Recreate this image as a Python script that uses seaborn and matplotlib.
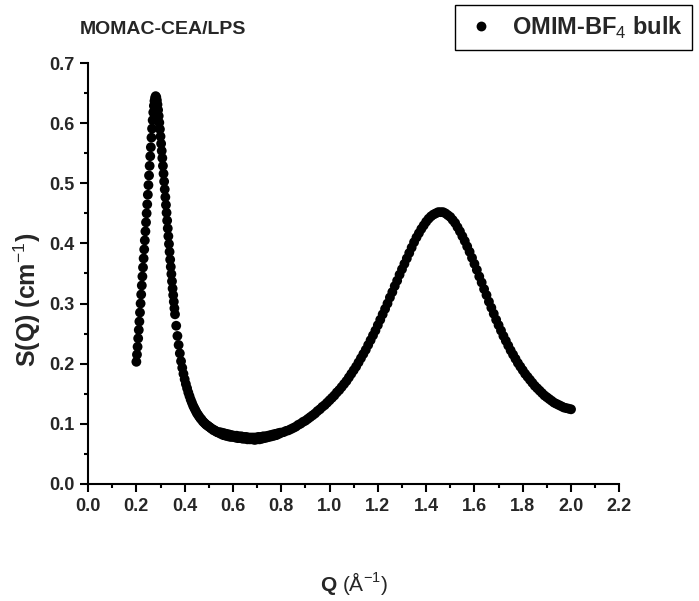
import numpy as np
import pandas as pd
import matplotlib
matplotlib.use("Agg")
import matplotlib.pyplot as plt
from matplotlib.ticker import MultipleLocator
import seaborn as sns

title = "MOMAC-CEA/LPS"
series_label = "OMIM-BF$_4$ bulk"

# first correlation peak (sparse, well separated points)
q_peak1 = [0.2000, 0.2025, 0.2050, 0.2075, 0.2100, 0.2125, 0.2150, 0.2175, 0.2200, 0.2225,
           0.2250, 0.2275, 0.2300, 0.2325, 0.2350, 0.2375, 0.2400, 0.2425, 0.2450, 0.2475,
           0.2500, 0.2525, 0.2550, 0.2575, 0.2600, 0.2625, 0.2650, 0.2675, 0.2700, 0.2725,
           0.2750, 0.2775, 0.2800,
           0.2825, 0.2850, 0.2875, 0.2900, 0.2925, 0.2950, 0.2975, 0.3000, 0.3025, 0.3050,
           0.3075, 0.3100, 0.3125, 0.3150, 0.3175, 0.3200, 0.3225, 0.3250, 0.3275, 0.3300,
           0.3325, 0.3350, 0.3375, 0.3400, 0.3425, 0.3450, 0.3475, 0.3500, 0.3525, 0.3550,
           0.3575, 0.3600]
s_peak1 = [0.203, 0.215, 0.228, 0.242, 0.256, 0.270, 0.285, 0.300, 0.315, 0.330,
           0.345, 0.360, 0.375, 0.390, 0.405, 0.420, 0.435, 0.450, 0.465, 0.481,
           0.497, 0.513, 0.529, 0.545, 0.560, 0.576, 0.591, 0.605, 0.618, 0.629,
           0.637, 0.642, 0.645,
           0.643, 0.638, 0.631, 0.622, 0.612, 0.601, 0.590, 0.578, 0.566, 0.554,
           0.542, 0.529, 0.516, 0.503, 0.490, 0.477, 0.464, 0.451, 0.438, 0.425,
           0.412, 0.399, 0.386, 0.373, 0.361, 0.349, 0.337, 0.325, 0.314, 0.303,
           0.292, 0.282]

# decay and noisy minimum
q_valley = [0.365, 0.370, 0.375, 0.380, 0.385, 0.390, 0.395, 0.400,
            0.405, 0.410, 0.415, 0.420, 0.425, 0.430, 0.435, 0.440, 0.445, 0.450,
            0.455, 0.460, 0.465, 0.470, 0.475, 0.480, 0.485, 0.490, 0.495, 0.500,
            0.505, 0.510, 0.515, 0.520, 0.525, 0.530, 0.535, 0.540, 0.545, 0.550,
            0.555, 0.560, 0.565, 0.570, 0.575, 0.580, 0.585, 0.590, 0.595, 0.600,
            0.605, 0.610, 0.615, 0.620, 0.625, 0.630, 0.635, 0.640, 0.645, 0.650,
            0.655, 0.660, 0.665, 0.670, 0.675, 0.680, 0.685, 0.690, 0.695, 0.700,
            0.705, 0.710, 0.715, 0.720, 0.725, 0.730, 0.735, 0.740, 0.745, 0.750,
            0.755, 0.760, 0.765, 0.770, 0.775, 0.780, 0.785, 0.790, 0.795]
s_valley = [0.263, 0.246, 0.231, 0.217, 0.204, 0.193, 0.183, 0.174,
            0.166, 0.159, 0.152, 0.146, 0.140, 0.135, 0.130, 0.126, 0.122, 0.118,
            0.115, 0.112, 0.109, 0.107, 0.104, 0.102, 0.100, 0.098, 0.097, 0.095,
            0.094, 0.092, 0.091, 0.089, 0.089, 0.087, 0.086, 0.085, 0.086, 0.083,
            0.085, 0.081, 0.084, 0.080, 0.083, 0.079, 0.082, 0.078, 0.081, 0.078,
            0.080, 0.077, 0.080, 0.076, 0.079, 0.076, 0.079, 0.075, 0.078, 0.075,
            0.078, 0.074, 0.077, 0.074, 0.077, 0.074, 0.077, 0.073, 0.077, 0.074,
            0.078, 0.074, 0.078, 0.075, 0.079, 0.076, 0.079, 0.077, 0.080, 0.078,
            0.081, 0.079, 0.082, 0.080, 0.083, 0.081, 0.084, 0.083, 0.085]

# rise to the second peak and high-Q tail
q_peak2 = [0.80, 0.81, 0.82, 0.83, 0.84, 0.85, 0.86, 0.87, 0.88, 0.89,
           0.90, 0.91, 0.92, 0.93, 0.94, 0.95, 0.96, 0.97, 0.98, 0.99,
           1.00, 1.01, 1.02, 1.03, 1.04, 1.05, 1.06, 1.07, 1.08, 1.09,
           1.10, 1.11, 1.12, 1.13, 1.14, 1.15, 1.16, 1.17, 1.18, 1.19,
           1.20, 1.21, 1.22, 1.23, 1.24, 1.25, 1.26, 1.27, 1.28, 1.29,
           1.30, 1.31, 1.32, 1.33, 1.34, 1.35, 1.36, 1.37, 1.38, 1.39,
           1.40, 1.41, 1.42, 1.43, 1.44, 1.45, 1.46, 1.47, 1.48, 1.49,
           1.50, 1.51, 1.52, 1.53, 1.54, 1.55, 1.56, 1.57, 1.58, 1.59,
           1.60, 1.61, 1.62, 1.63, 1.64, 1.65, 1.66, 1.67, 1.68, 1.69,
           1.70, 1.71, 1.72, 1.73, 1.74, 1.75, 1.76, 1.77, 1.78, 1.79,
           1.80, 1.81, 1.82, 1.83, 1.84, 1.85, 1.86, 1.87, 1.88, 1.89,
           1.90, 1.91, 1.92, 1.93, 1.94, 1.95, 1.96, 1.97, 1.98, 1.99, 2.00]
s_peak2 = [0.085, 0.086, 0.088, 0.089, 0.091, 0.093, 0.095, 0.098, 0.100, 0.103,
           0.105, 0.108, 0.111, 0.114, 0.117, 0.121, 0.124, 0.128, 0.131, 0.135,
           0.139, 0.143, 0.147, 0.152, 0.156, 0.161, 0.166, 0.171, 0.177, 0.183,
           0.189, 0.195, 0.202, 0.209, 0.216, 0.223, 0.231, 0.239, 0.247, 0.255,
           0.264, 0.273, 0.282, 0.291, 0.300, 0.310, 0.319, 0.329, 0.338, 0.348,
           0.357, 0.366, 0.375, 0.384, 0.393, 0.402, 0.410, 0.417, 0.424, 0.430,
           0.436, 0.441, 0.445, 0.448, 0.450, 0.452, 0.452, 0.452, 0.450, 0.447,
           0.444, 0.439, 0.434, 0.427, 0.420, 0.412, 0.404, 0.395, 0.386, 0.376,
           0.366, 0.356, 0.345, 0.335, 0.324, 0.314, 0.303, 0.293, 0.283, 0.273,
           0.264, 0.255, 0.246, 0.238, 0.230, 0.222, 0.215, 0.208, 0.201, 0.195,
           0.189, 0.183, 0.178, 0.173, 0.168, 0.163, 0.159, 0.155, 0.151, 0.147,
           0.144, 0.141, 0.138, 0.135, 0.133, 0.131, 0.129, 0.127, 0.126, 0.125, 0.124]

x_ticks = [0.0, 0.2, 0.4, 0.6, 0.8, 1.0, 1.2, 1.4, 1.6, 1.8, 2.0, 2.2]
y_ticks = [0.0, 0.1, 0.2, 0.3, 0.4, 0.5, 0.6, 0.7]

df = pd.DataFrame({"Q": q_peak1 + q_valley + q_peak2,
                   "S": s_peak1 + s_valley + s_peak2,
                   "series": series_label})

sns.set_style("ticks")
plt.rcParams["font.family"] = ["Liberation Sans", "DejaVu Sans"]
plt.rcParams["mathtext.fontset"] = "custom"
plt.rcParams["mathtext.rm"] = "Liberation Sans"
plt.rcParams["mathtext.bf"] = "Liberation Sans:bold"

fig = plt.figure(figsize=(6.99, 6.01), dpi=100)
ax = fig.add_axes([0.126, 0.195, 0.760, 0.700])

sns.scatterplot(data=df, x="Q", y="S", hue="series", palette=["black"],
                s=50, linewidth=0, ax=ax, legend=True)

ax.set_xlim(0.0, 2.2)
ax.set_ylim(0.0, 0.7)
ax.set_xticks(x_ticks)
ax.set_yticks(y_ticks)
ax.xaxis.set_minor_locator(MultipleLocator(0.1))
ax.yaxis.set_minor_locator(MultipleLocator(0.05))
ax.set_xticklabels([f"{v:.1f}" for v in x_ticks], fontsize=13, fontweight="bold")
ax.set_yticklabels([f"{v:.1f}" for v in y_ticks], fontsize=13, fontweight="bold")
ax.tick_params(axis="both", which="major", direction="out", length=6, width=1.5, color="black", pad=4)
ax.tick_params(axis="both", which="minor", direction="out", length=3, width=1.5, color="black")
for sp in ["top", "right"]:
    ax.spines[sp].set_visible(False)
for sp in ["left", "bottom"]:
    ax.spines[sp].set_linewidth(1.5)
    ax.spines[sp].set_color("black")

ax.set_xlabel(r"$\mathbf{Q}$ ($\mathrm{\AA}^{-1}$)", fontsize=15, labelpad=40)
ax.set_ylabel("S(Q) (cm$^{-1}$)", fontsize=18, fontweight="bold")
ax.yaxis.set_label_coords(-0.085, 0.437)

fig.text(80 / 699, 1 - 30 / 601, title, fontsize=14, fontweight="bold", va="center", ha="left")

handles, labels = ax.get_legend_handles_labels()
ax.get_legend().remove()
leg = fig.legend(handles, labels, loc="upper left", bbox_to_anchor=(455 / 699, 1 - 5 / 601),
                 frameon=True, fancybox=False, edgecolor="black", framealpha=1,
                 prop={"weight": "bold", "size": 17}, markerscale=1.0,
                 handletextpad=0.6, borderpad=0.4, handlelength=1.4, borderaxespad=0)
leg.get_frame().set_linewidth(1.0)

fig.savefig("out.png", dpi=100)
